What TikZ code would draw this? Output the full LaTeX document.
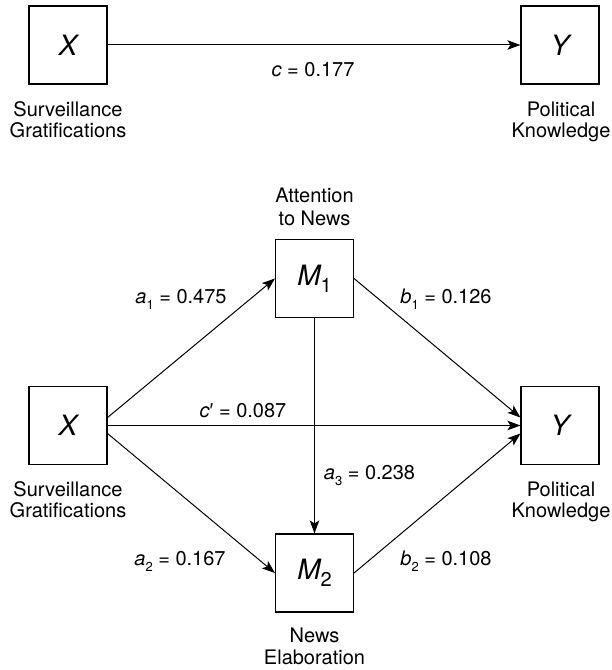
\documentclass[tikz,border=0pt]{standalone}
\usepackage{fontspec}
\setmainfont{TeX Gyre Heros}
\newfontfamily\primefont{Liberation Sans}
\usetikzlibrary{arrows.meta}

% small lowered index used in the path coefficients
\newcommand{\coefidx}[1]{\lower6bp\hbox{\fontsize{13bp}{13bp}\selectfont\upshape #1}}
% large lowered index used inside the mediator boxes
\newcommand{\boxidx}[1]{\lower7bp\hbox{\fontsize{20bp}{20bp}\selectfont\upshape #1}}

\tikzset{
  varbox/.style={draw, line width=1.1bp, minimum width=78bp, minimum height=78bp,
                 inner sep=0pt, font=\fontsize{28bp}{28bp}\selectfont\itshape},
  % anchor=base of a two-line caption sits on the baseline of its second line
  caption/.style={align=center, inner sep=0pt, anchor=base,
                  font=\fontsize{20bp}{#1}\selectfont},
  caption/.default=20.5bp,
  coef/.style={inner sep=0pt, anchor=base, font=\fontsize{20bp}{20bp}\selectfont},
  path/.style={line width=1bp, -{Stealth[length=13bp,width=9.5bp,inset=3bp]}},
}

\begin{document}
\begin{tikzpicture}[x=1bp, y=-1bp]
  \useasboundingbox (0,0) rectangle (612,670);

  % ---- total effect model ----
  \node[varbox] (tX) at (68,45) {X};
  \node[varbox] (tY) at (560,45) {Y};
  \node[caption] (tXcap) at (68,137.5) {Surveillance\\Gratifications};
  \node[caption] (tYcap) at (561,137.5) {Political\\Knowledge};
  \draw[path] (tX.east) -- (tY.west);
  \node[coef] (c) at (313,77) {\textit{c} = 0.177};

  % ---- serial mediation model ----
  \node[varbox] (X)  at (68,425.5)  {X};
  \node[varbox] (Y)  at (560,425.5) {Y};
  \node[varbox] (M1) at (314.5,278.5) {M\boxidx{1}};
  \node[varbox] (M2) at (314.5,573)   {M\boxidx{2}};

  \node[caption] (Xcap)  at (68,517)   {Surveillance\\Gratifications};
  \node[caption] (Ycap)  at (561,517)  {Political\\Knowledge};
  \node[caption=23bp] (M1cap) at (314.5,225) {Attention\\to News};
  \node[caption=22bp] (M2cap) at (314.5,664) {News\\Elaboration};

  \draw[path] ([yshift=8bp]X.east) -- (M1.west);
  \draw[path] (M1.east) -- ([yshift=8bp]Y.west);
  \draw[path] (X.east) -- (Y.west);
  \draw[path] ([yshift=-8bp]X.east) -- (M2.west);
  \draw[path] (M2.east) -- ([yshift=-8bp]Y.west);
  \draw[path] (M1.south) -- (M2.north);

  \node[coef] (a1) at (181,303) {\textit{a}\coefidx{1} = 0.475};
  \node[coef] (b1) at (446,303) {\textit{b}\coefidx{1} = 0.126};
  \node[coef] (cp) at (243,417) {\textit{c}{\primefont ′} = 0.087};
  \node[coef] (a3) at (369.5,479) {\textit{a}\coefidx{3} = 0.238};
  \node[coef] (a2) at (180,565) {\textit{a}\coefidx{2} = 0.167};
  \node[coef] (b2) at (446,565) {\textit{b}\coefidx{2} = 0.108};
\end{tikzpicture}
\end{document}
